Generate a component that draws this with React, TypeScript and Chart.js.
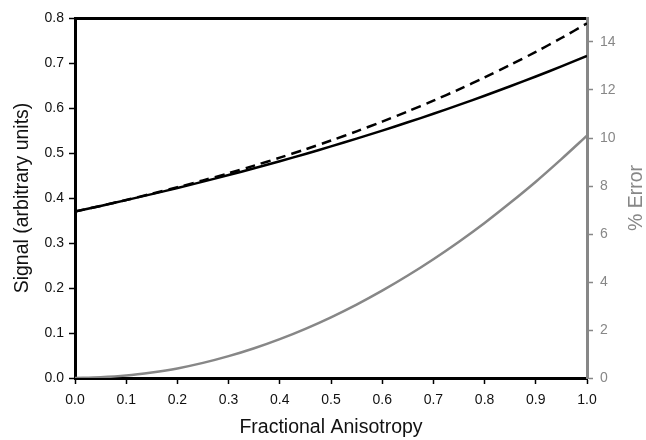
import React, { useEffect, useRef } from "react";
import { Chart, registerables } from "chart.js";

Chart.register(...registerables);

const fractionalAnisotropy = [0, 0.05, 0.1, 0.15, 0.2, 0.25, 0.3, 0.35, 0.4, 0.45, 0.5, 0.55, 0.6, 0.65, 0.7, 0.75, 0.8, 0.85, 0.9, 0.95, 1.0];
const signalSolid = [0.370, 0.3824, 0.3953, 0.4086, 0.4222, 0.4364, 0.4510, 0.4661, 0.4818, 0.4979, 0.5147, 0.5319, 0.5498, 0.5682, 0.5872, 0.6069, 0.6273, 0.6483, 0.6700, 0.6924, 0.7157];
const signalDashed = [0.370, 0.3825, 0.3957, 0.4095, 0.4239, 0.4391, 0.4551, 0.4719, 0.4896, 0.5081, 0.5277, 0.5482, 0.5698, 0.5925, 0.6163, 0.6414, 0.6678, 0.6956, 0.7248, 0.7555, 0.7880];
const percentError = [0, 0.03, 0.1, 0.23, 0.4, 0.63, 0.91, 1.24, 1.62, 2.05, 2.53, 3.06, 3.64, 4.27, 4.95, 5.68, 6.46, 7.3, 8.18, 9.12, 10.1];

const xTitle = "Fractional Anisotropy";
const yTitle = "Signal (arbitrary units)";
const y2Title = "% Error";

const GRAY = "#878787";
const BLACK = "#000000";
const FONT = "'Liberation Sans', Arial, sans-serif";

const pts = (ys: number[]) => fractionalAnisotropy.map((x, i) => ({ x, y: ys[i] }));

const titlesPlugin = {
  id: "titles",
  afterDraw(chart: any) {
    const { ctx, chartArea } = chart;
    const midY = (chartArea.top + chartArea.bottom) / 2;
    ctx.save();
    ctx.font = `19.5px ${FONT}`;
    ctx.textAlign = "center";
    ctx.textBaseline = "middle";
    ctx.fillStyle = "#111";
    ctx.fillText(xTitle, (chartArea.left + chartArea.right) / 2, 428);
    ctx.save();
    ctx.translate(23, midY);
    ctx.rotate(-Math.PI / 2);
    ctx.fillText(yTitle, 0, 0);
    ctx.restore();
    ctx.save();
    ctx.fillStyle = GRAY;
    ctx.translate(637, midY);
    ctx.rotate(-Math.PI / 2);
    ctx.fillText(y2Title, 0, 0);
    ctx.restore();
    ctx.restore();
  },
};

export default function App() {
  const ref = useRef<HTMLCanvasElement>(null);
  useEffect(() => {
    if (!ref.current) return;
    const chart = new Chart(ref.current, {
      type: "line",
      data: {
        datasets: [
          {
            data: pts(signalDashed),
            borderColor: BLACK,
            borderWidth: 2.5,
            borderDash: [10, 6],
            pointRadius: 0,
            tension: 0.3,
            yAxisID: "y",
            xAxisID: "x",
          },
          {
            data: pts(signalSolid),
            borderColor: BLACK,
            borderWidth: 2.5,
            pointRadius: 0,
            tension: 0.3,
            yAxisID: "y",
            xAxisID: "x",
          },
          {
            data: pts(percentError),
            borderColor: GRAY,
            borderWidth: 2.5,
            pointRadius: 0,
            tension: 0.3,
            yAxisID: "y2",
            xAxisID: "x",
          },
        ],
      },
      options: {
        animation: false,
        responsive: false,
        layout: { padding: 0 },
        plugins: { legend: { display: false }, tooltip: { enabled: false } },
        scales: {
          x: {
            type: "linear",
            position: "bottom",
            min: 0,
            max: 1,
            afterFit: (s: any) => { s.height = 62; },
            ticks: {
              stepSize: 0.1,
              color: "#111",
              font: { family: FONT, size: 14 },
              padding: 8,
              maxRotation: 0,
              autoSkip: false,
              callback: (v: any) => Number(v).toFixed(1),
            },
            grid: { drawOnChartArea: false, drawTicks: true, tickLength: 6, tickColor: BLACK, tickWidth: 1.5 },
            border: { color: BLACK, width: 3 },
          },
          xTop: {
            type: "linear",
            position: "top",
            min: 0,
            max: 1,
            afterFit: (s: any) => { s.height = 18; },
            ticks: { display: false },
            grid: { drawOnChartArea: false, drawTicks: false },
            border: { color: BLACK, width: 3 },
          },
          y: {
            type: "linear",
            position: "left",
            min: 0,
            max: 0.8,
            afterFit: (s: any) => { s.width = 75; },
            ticks: {
              stepSize: 0.1,
              color: "#111",
              font: { family: FONT, size: 14 },
              padding: 5,
              callback: (v: any) => Number(v).toFixed(1),
            },
            grid: { drawOnChartArea: false, drawTicks: true, tickLength: 6, tickColor: BLACK, tickWidth: 1.5 },
            border: { color: BLACK, width: 3 },
          },
          y2: {
            type: "linear",
            position: "right",
            min: 0,
            max: 15,
            afterFit: (s: any) => { s.width = 59; },
            ticks: {
              stepSize: 2,
              color: GRAY,
              font: { family: FONT, size: 14 },
              padding: 7,
              callback: (v: any) => String(v),
            },
            afterBuildTicks: (s: any) => {
              s.ticks = [0, 2, 4, 6, 8, 10, 12, 14].map((value) => ({ value }));
            },
            grid: { drawOnChartArea: false, drawTicks: true, tickLength: 6, tickColor: GRAY, tickWidth: 1.5 },
            border: { color: GRAY, width: 3 },
          },
        },
      },
      plugins: [titlesPlugin],
    } as any);
    return () => chart.destroy();
  }, []);
  return (
    <div style={{ position: "fixed", left: 0, top: 0, width: 646, height: 440, background: "#fff" }}>
      <canvas ref={ref} width={646} height={440} style={{ display: "block" }} />
    </div>
  );
}
